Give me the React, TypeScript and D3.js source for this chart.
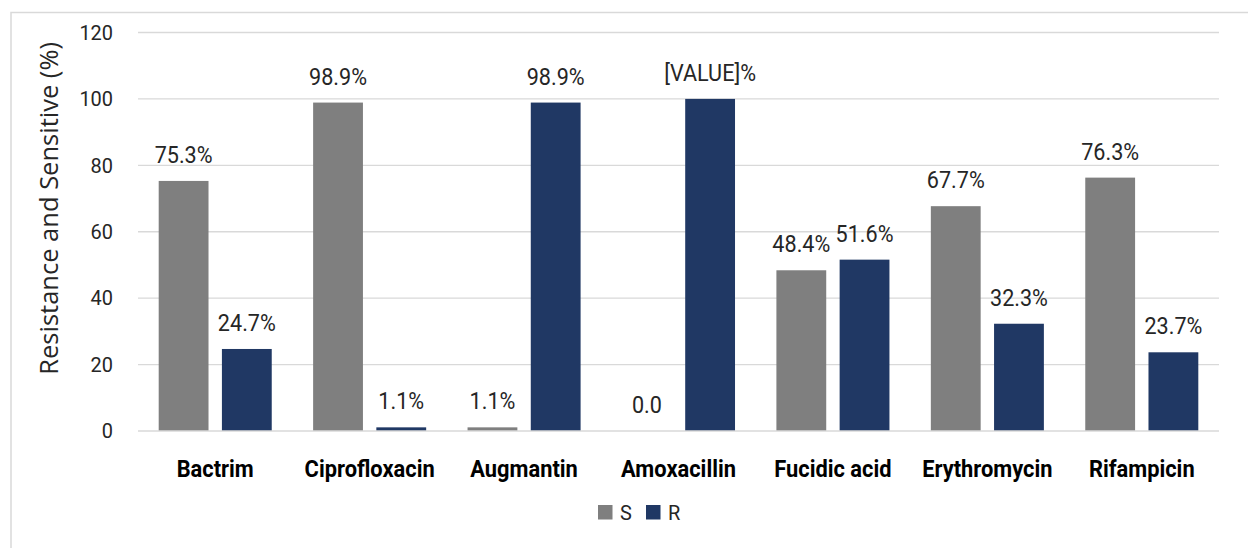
import React from "react";
import * as d3 from "d3";

const categories = ["Bactrim", "Ciprofloxacin", "Augmantin", "Amoxacillin", "Fucidic acid", "Erythromycin", "Rifampicin"];
const seriesNames = ["S", "R"];
const sValues = [75.3, 98.9, 1.1, 0, 48.4, 67.7, 76.3];
const rValues = [24.7, 1.1, 98.9, 100, 51.6, 32.3, 23.7];
const sLabels = ["75.3%", "98.9%", "1.1%", "0.0", "48.4%", "67.7%", "76.3%"];
const rLabels = ["24.7%", "1.1%", "98.9%", "[VALUE]%", "51.6%", "32.3%", "23.7%"];
const yTicks = [0, 20, 40, 60, 80, 100, 120];
const colors = ["#7f7f7f", "#203864"];
const yTitle = "Resistance and Sensitive (%)";

const W = 1248;
const H = 548;
const plot = { left: 138, right: 1219, top: 32.5, bottom: 431 };

function NText(props: { x: number; y: number; sx: number; children: React.ReactNode; [k: string]: any }) {
  const { x, y, sx, children, ...rest } = props;
  return (
    <text transform={`translate(${x},${y}) scale(${sx},1)`} {...rest}>
      {children}
    </text>
  );
}

export default function App() {
  const x = d3.scaleBand<string>().domain(categories).range([plot.left, plot.right]).paddingInner(0).paddingOuter(0);
  const y = d3.scaleLinear().domain([0, 120]).range([plot.bottom, plot.top]);
  const bw = x.bandwidth();
  const outer = bw * 0.134;
  const x1 = d3.scaleBand<string>().domain(seriesNames).range([outer, bw - outer]).paddingInner(0.212).paddingOuter(0);
  const series = [sValues, rValues];
  const labels = [sLabels, rLabels];
  const font = "Roboto, sans-serif";

  return (
    <svg width={W} height={H} style={{ position: "absolute", left: 0, top: 0, background: "#fff" }}>
      <rect x={11} y={12.5} width={W} height={H} fill="#fff" stroke="#d9d9d9" strokeWidth={1.5} />
      {yTicks.map((t) => (
        <g key={t}>
          {t !== 0 && (
            <line x1={plot.left} x2={plot.right} y1={y(t)} y2={y(t)} stroke="#d9d9d9" strokeWidth={1.3} />
          )}
          <NText x={113} y={y(t) + 7.2} sx={0.95} textAnchor="end" fontFamily={font} fontSize={21} fill="#262626">
            {t}
          </NText>
        </g>
      ))}
      {categories.map((c, i) => (
        <g key={c} transform={`translate(${x(c)},0)`}>
          {seriesNames.map((s, j) => {
            const v = series[j][i];
            const bx = x1(s) as number;
            return (
              <g key={s}>
                <rect x={bx} y={y(v)} width={x1.bandwidth()} height={y(0) - y(v)} fill={colors[j]} />
                <NText
                  x={bx + x1.bandwidth() / 2}
                  y={y(v) - 18}
                  sx={0.92}
                  textAnchor="middle"
                  fontFamily={font}
                  fontSize={23.5}
                  fill="#262626"
                >
                  {labels[j][i]}
                </NText>
              </g>
            );
          })}
          <NText x={bw / 2} y={477} sx={0.93} textAnchor="middle" fontFamily={font} fontWeight="bold" fontSize={23.5} fill="#000">
            {c}
          </NText>
        </g>
      ))}
      <line x1={plot.left} x2={plot.right} y1={y(0)} y2={y(0)} stroke="#d9d9d9" strokeWidth={1.5} />
      <text
        transform={`translate(58,42) rotate(-90)`}
        textAnchor="end"
        fontFamily="'Open Sans', sans-serif"
        fontSize={25.5}
        fill="#262626"
      >
        {yTitle}
      </text>
      <g fontFamily={font} fontSize={20} fill="#262626">
        <rect x={598} y={505} width={14.5} height={14.5} fill={colors[0]} />
        <NText x={620} y={519.5} sx={0.95} fontSize={21}>{seriesNames[0]}</NText>
        <rect x={646} y={505} width={14.5} height={14.5} fill={colors[1]} />
        <NText x={668} y={519.5} sx={0.95} fontSize={21}>{seriesNames[1]}</NText>
      </g>
    </svg>
  );
}
